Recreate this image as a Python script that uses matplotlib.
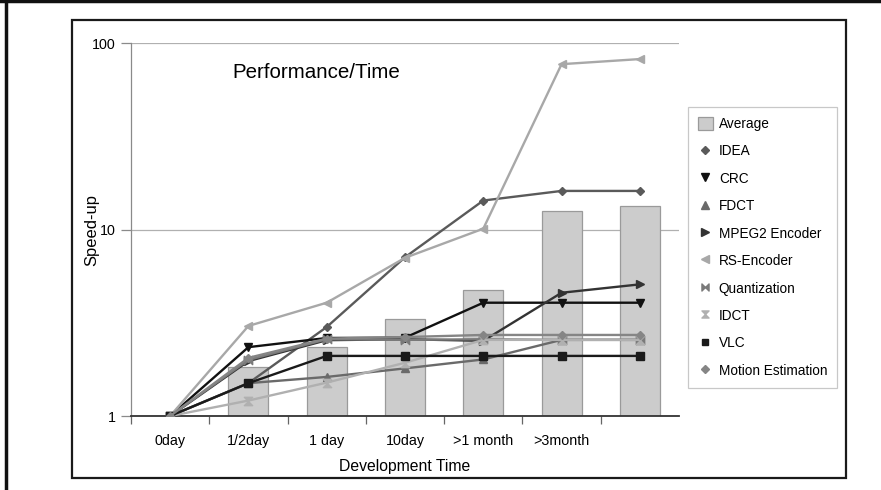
import matplotlib
matplotlib.use("Agg")
import matplotlib.pyplot as plt
from matplotlib import font_manager
from matplotlib.path import Path
from matplotlib.lines import Line2D
from matplotlib.patches import Patch, Rectangle
import numpy as np

# ---------------- data ----------------
categories = ["0day", "1/2day", "1 day", "10day", ">1 month", ">3month", ""]
average = [1.0, 1.82, 2.34, 3.32, 4.74, 12.6, 13.3]
idea = [1.0, 1.5, 3.0, 7.1, 14.3, 16.1, 16.1]
crc = [1.0, 2.34, 2.62, 2.63, 4.05, 4.05, 4.05]
fdct = [1.0, 1.5, 1.62, 1.8, 2.01, 2.56, 2.56]
mpeg2 = [1.0, 1.97, 2.55, 2.58, 2.53, 4.58, 5.08]
rs_encoder = [1.0, 3.04, 4.05, 7.05, 10.1, 77.0, 82.0]
quantization = [1.0, 2.0, 2.58, 2.56, 2.58, 2.56, 2.56]
idct = [1.0, 1.21, 1.51, 1.93, 2.56, 2.56, 2.56]
vlc = [1.0, 1.5, 2.1, 2.1, 2.1, 2.1, 2.1]
motion_est = [1.0, 2.05, 2.6, 2.65, 2.72, 2.72, 2.72]

# ---------------- fonts ----------------
names = {f.name for f in font_manager.fontManager.ttflist}
if "Liberation Sans Narrow" in names:
    FAM = ["Liberation Sans Narrow", "DejaVu Sans"]
    k = 1.0
else:
    FAM = ["Liberation Sans", "DejaVu Sans"]
    k = 0.82
plt.rcParams["font.family"] = FAM

W, H = 881, 490
fig = plt.figure(figsize=(W / 100, H / 100), dpi=100)

def fx(px):
    return px / W

def fy(py):
    return 1 - py / H

# outer frame lines
fig.add_artist(Line2D([0, 1], [fy(1.5), fy(1.5)], transform=fig.transFigure, color="#111", lw=2.5))
fig.add_artist(Line2D([fx(5.5), fx(5.5)], [0, 1], transform=fig.transFigure, color="#111", lw=2.5))
# inner chart frame
fig.add_artist(Rectangle((fx(72), fy(478)), fx(846) - fx(72), fy(20) - fy(478),
                         transform=fig.transFigure, fill=False, ec="#1a1a1a", lw=1.6))

ax_l, ax_r, ax_t, ax_b = 131, 679, 43, 416
ax = fig.add_axes([fx(ax_l), fy(ax_b), fx(ax_r) - fx(ax_l), fy(ax_t) - fy(ax_b)])
x = np.arange(len(categories))

ax.set_yscale("log")
ax.set_ylim(1, 100)
ax.set_xlim(-0.5, len(categories) - 0.5)

# grid
ax.yaxis.grid(True, color="#b0b0b0", lw=0.9)
ax.set_axisbelow(True)

# bars
ax.bar(x, [a - 1 for a in average], bottom=1, width=0.51, color="#cccccc",
       edgecolor="#9a9a9a", lw=0.9, zorder=2)

bowtie = Path([(-1, -1), (-1, 1), (0, 0), (1, 1), (1, -1), (0, 0), (-1, -1)],
              [Path.MOVETO, Path.LINETO, Path.LINETO, Path.LINETO, Path.LINETO, Path.LINETO, Path.CLOSEPOLY])
hourglass = Path([(-1, 1), (1, 1), (0, 0), (1, -1), (-1, -1), (0, 0), (-1, 1)],
                 [Path.MOVETO, Path.LINETO, Path.LINETO, Path.LINETO, Path.LINETO, Path.LINETO, Path.CLOSEPOLY])

series = [
    ("IDEA", idea, "#5a5a5a", "D", 4.5),
    ("CRC", crc, "#111111", "v", 6),
    ("FDCT", fdct, "#6a6a6a", "^", 6),
    ("MPEG2 Encoder", mpeg2, "#333333", ">", 6),
    ("RS-Encoder", rs_encoder, "#a8a8a8", "<", 6),
    ("Quantization", quantization, "#7a7a7a", bowtie, 6),
    ("IDCT", idct, "#b0b0b0", hourglass, 6),
    ("VLC", vlc, "#1a1a1a", "s", 5.5),
    ("Motion Estimation", motion_est, "#858585", "D", 4.5),
]

for name, vals, col, mk, ms in series:
    ax.plot(x, vals, color=col, lw=1.7, marker=mk, ms=ms, mfc=col, mec=col, zorder=3)

# axes styling
for s in ["top", "right"]:
    ax.spines[s].set_visible(False)
ax.spines["left"].set_color("#8a8a8a")
ax.spines["left"].set_linewidth(0.9)
ax.spines["bottom"].set_color("#333333")
ax.spines["bottom"].set_linewidth(1.3)

ax.set_yticks([1, 10, 100])
ax.set_yticklabels(["1", "10", "100"])
ax.yaxis.set_minor_locator(matplotlib.ticker.NullLocator())
ax.tick_params(axis="y", which="major", length=7, width=0.9, color="#8a8a8a",
               labelsize=12.5 * k, pad=4)

ax.set_xticks(x)
ax.set_xticklabels(categories)
ax.tick_params(axis="x", which="major", length=0, labelsize=12.5 * k, pad=13)
ax.set_xticks(np.arange(-0.5, len(categories) - 1, 1.0), minor=True)
ax.tick_params(axis="x", which="minor", length=6, width=0.9, color="#666666")

ax.set_xlabel("Development Time", fontsize=13.8 * k, labelpad=8)
ax.set_ylabel("Speed-up", fontsize=14.5 * k, labelpad=-5)

title = fig.text(fx(316), fy(73), "Performance/Time", fontsize=18 * k,
                 ha="center", va="center")

# legend
handles = [Patch(facecolor="#cccccc", edgecolor="#9a9a9a", lw=0.9, label="Average")]
for name, vals, col, mk, ms in series:
    handles.append(Line2D([], [], ls="none", marker=mk, color=col, mfc=col, mec=col,
                          ms=ms * 0.85, label=name))
leg = fig.legend(handles=handles, loc="upper left", bbox_to_anchor=(fx(688), fy(107)),
                 bbox_transform=fig.transFigure, fontsize=12 * k, frameon=True,
                 fancybox=False, edgecolor="#bbbbbb", borderaxespad=0,
                 handlelength=1.1, handleheight=1.1, handletextpad=0.45,
                 labelspacing=0.97, borderpad=0.7)
leg.get_frame().set_linewidth(0.9)

fig.savefig("out.png", dpi=100)
